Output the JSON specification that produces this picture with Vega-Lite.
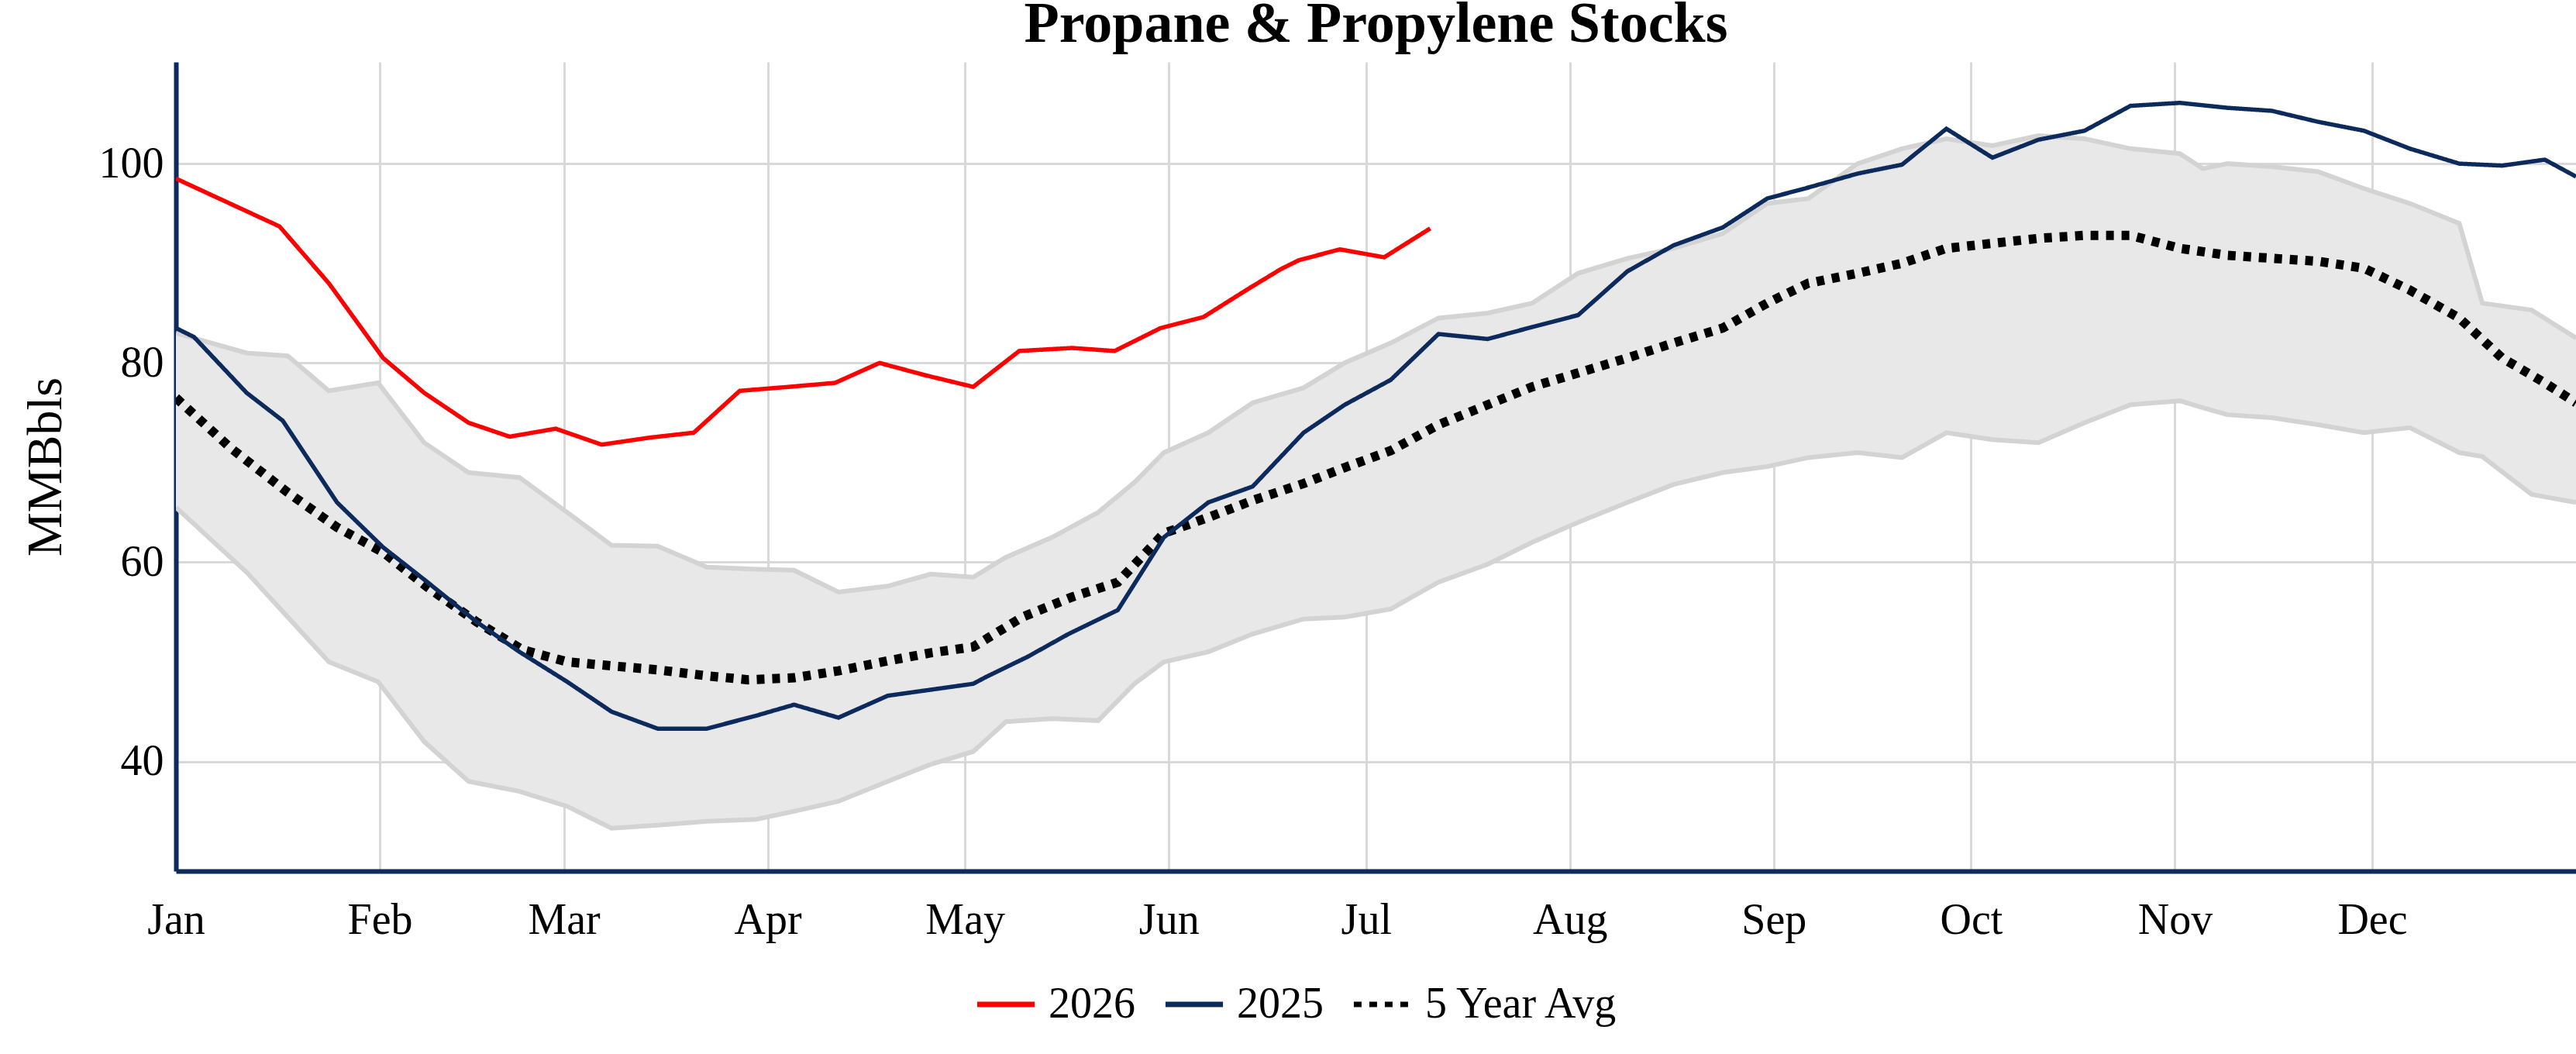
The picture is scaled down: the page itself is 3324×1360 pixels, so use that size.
{
"$schema":"https://vega.github.io/schema/vega-lite/v6.json",
"width":3097,"height":1044,
"autosize":"none",
"padding":{"left":227,"top":80,"right":0,"bottom":236},
"background":"white",
"title":{"text":"Propane & Propylene Stocks","font":"Liberation Serif","fontSize":74,"fontWeight":"bold","color":"black","offset":10,"anchor":"middle"},
"config":{"view":{"stroke":null},"font":"Liberation Serif"},
"datasets":{
"band":[
{"day":0,"lo":65.5,"hi":83},{"day":10.75,"lo":59,"hi":81},{"day":17,"lo":54.5,"hi":80.7},{"day":23.25,"lo":50,"hi":77.2},{"day":30.75,"lo":48,"hi":78},{"day":37.75,"lo":42,"hi":72},{"day":44.5,"lo":38,"hi":69},{"day":52.25,"lo":37,"hi":68.5},{"day":59.5,"lo":35.5,"hi":65},{"day":66.25,"lo":33.3,"hi":61.7},{"day":73.25,"lo":33.6,"hi":61.6},{"day":80.75,"lo":34,"hi":59.5},{"day":88.25,"lo":34.2,"hi":59.3},{"day":94,"lo":35,"hi":59.2},{"day":100.75,"lo":36,"hi":57},{"day":108.25,"lo":38,"hi":57.6},{"day":114.75,"lo":39.7,"hi":58.8},{"day":121.25,"lo":41,"hi":58.5},{"day":126.25,"lo":44,"hi":60.5},{"day":133.25,"lo":44.3,"hi":62.5},{"day":140.25,"lo":44.1,"hi":65},{"day":145.75,"lo":47.8,"hi":68},{"day":150.25,"lo":50,"hi":71},{"day":157,"lo":51,"hi":73},{"day":163.75,"lo":52.8,"hi":76},{"day":171.5,"lo":54.3,"hi":77.5},{"day":177.75,"lo":54.5,"hi":80},{"day":184.75,"lo":55.3,"hi":82},{"day":192,"lo":58,"hi":84.5},{"day":199.5,"lo":59.8,"hi":85},{"day":206.25,"lo":62,"hi":86},{"day":213.25,"lo":64,"hi":89},{"day":220.75,"lo":66,"hi":90.5},{"day":227.75,"lo":67.8,"hi":91.5},{"day":235.25,"lo":69,"hi":93},{"day":242,"lo":69.6,"hi":96},{"day":248.25,"lo":70.5,"hi":96.5},{"day":255.75,"lo":71,"hi":100},{"day":262.5,"lo":70.5,"hi":101.5},{"day":269.25,"lo":73,"hi":102.5},{"day":276.25,"lo":72.3,"hi":101.8},{"day":283.25,"lo":72,"hi":102.8},{"day":290.25,"lo":74,"hi":102.5},{"day":297.25,"lo":75.8,"hi":101.5},{"day":304.75,"lo":76.2,"hi":101},{"day":308.25,"lo":75.5,"hi":99.5},{"day":312,"lo":74.8,"hi":100},{"day":318.75,"lo":74.5,"hi":99.7},{"day":325.75,"lo":73.8,"hi":99.2},{"day":332.75,"lo":73,"hi":97.5},{"day":339.75,"lo":73.5,"hi":96},{"day":347.25,"lo":71,"hi":94},{"day":350.75,"lo":70.6,"hi":86},{"day":358.25,"lo":66.8,"hi":85.3},{"day":365,"lo":66,"hi":82.5}
],
"lines":[
{"series":"2026","day":0,"v":98.5},{"series":"2026","day":15.75,"v":93.7},{"series":"2026","day":23.25,"v":88},{"series":"2026","day":31.5,"v":80.5},{"series":"2026","day":37.75,"v":77},{"series":"2026","day":44.5,"v":74},{"series":"2026","day":50.75,"v":72.6},{"series":"2026","day":57.75,"v":73.4},{"series":"2026","day":64.75,"v":71.8},{"series":"2026","day":72,"v":72.5},{"series":"2026","day":78.75,"v":73},{"series":"2026","day":85.75,"v":77.2},{"series":"2026","day":93.25,"v":77.6},{"series":"2026","day":100.25,"v":78},{"series":"2026","day":107,"v":80},{"series":"2026","day":113.75,"v":78.8},{"series":"2026","day":121.25,"v":77.6},{"series":"2026","day":128.25,"v":81.2},{"series":"2026","day":136.25,"v":81.5},{"series":"2026","day":142.75,"v":81.2},{"series":"2026","day":149.75,"v":83.5},{"series":"2026","day":156.25,"v":84.6},{"series":"2026","day":163.25,"v":87.5},{"series":"2026","day":168,"v":89.4},{"series":"2026","day":170.75,"v":90.3},{"series":"2026","day":177,"v":91.4},{"series":"2026","day":183.75,"v":90.6},{"series":"2026","day":190.75,"v":93.5},
{"series":"2025","day":0,"v":83.5},{"series":"2025","day":2.75,"v":82.6},{"series":"2025","day":10.75,"v":77},{"series":"2025","day":16.25,"v":74.2},{"series":"2025","day":24.5,"v":66},{"series":"2025","day":31.5,"v":61.5},{"series":"2025","day":38.25,"v":58},{"series":"2025","day":45.75,"v":54},{"series":"2025","day":52.25,"v":51},{"series":"2025","day":59.5,"v":48},{"series":"2025","day":66.25,"v":45},{"series":"2025","day":73.25,"v":43.3},{"series":"2025","day":80.75,"v":43.3},{"series":"2025","day":88.25,"v":44.6},{"series":"2025","day":94,"v":45.7},{"series":"2025","day":100.75,"v":44.4},{"series":"2025","day":108.25,"v":46.6},{"series":"2025","day":114.75,"v":47.2},{"series":"2025","day":121.25,"v":47.8},{"series":"2025","day":123.25,"v":48.5},{"series":"2025","day":129.5,"v":50.5},{"series":"2025","day":135.75,"v":52.8},{"series":"2025","day":143.25,"v":55.2},{"series":"2025","day":150.25,"v":62.5},{"series":"2025","day":157,"v":66},{"series":"2025","day":163.75,"v":67.6},{"series":"2025","day":171.5,"v":73},{"series":"2025","day":177.75,"v":75.8},{"series":"2025","day":184.75,"v":78.3},{"series":"2025","day":192,"v":82.9},{"series":"2025","day":199.5,"v":82.4},{"series":"2025","day":206.25,"v":83.6},{"series":"2025","day":213.25,"v":84.8},{"series":"2025","day":220.75,"v":89.2},{"series":"2025","day":227.75,"v":91.8},{"series":"2025","day":235.25,"v":93.6},{"series":"2025","day":242,"v":96.5},{"series":"2025","day":248.25,"v":97.6},{"series":"2025","day":255.75,"v":99},{"series":"2025","day":262.5,"v":99.9},{"series":"2025","day":269.25,"v":103.5},{"series":"2025","day":276.25,"v":100.6},{"series":"2025","day":283.25,"v":102.4},{"series":"2025","day":290.25,"v":103.3},{"series":"2025","day":297.25,"v":105.8},{"series":"2025","day":304.75,"v":106.1},{"series":"2025","day":312,"v":105.6},{"series":"2025","day":318.75,"v":105.3},{"series":"2025","day":325.75,"v":104.2},{"series":"2025","day":332.75,"v":103.3},{"series":"2025","day":339.75,"v":101.5},{"series":"2025","day":347.25,"v":100},{"series":"2025","day":353.75,"v":99.8},{"series":"2025","day":360.25,"v":100.4},{"series":"2025","day":365,"v":98.7},
{"series":"5 Year Avg","day":0,"v":76.5},{"series":"5 Year Avg","day":8.25,"v":71.5},{"series":"5 Year Avg","day":17,"v":67},{"series":"5 Year Avg","day":24.5,"v":63.5},{"series":"5 Year Avg","day":31.5,"v":61},{"series":"5 Year Avg","day":38.25,"v":57.5},{"series":"5 Year Avg","day":45.75,"v":54},{"series":"5 Year Avg","day":52.75,"v":51.2},{"series":"5 Year Avg","day":59.5,"v":50},{"series":"5 Year Avg","day":66.25,"v":49.6},{"series":"5 Year Avg","day":73.25,"v":49.2},{"series":"5 Year Avg","day":80.75,"v":48.6},{"series":"5 Year Avg","day":87,"v":48.2},{"series":"5 Year Avg","day":94,"v":48.4},{"series":"5 Year Avg","day":100.75,"v":49.1},{"series":"5 Year Avg","day":108.25,"v":50.1},{"series":"5 Year Avg","day":114.75,"v":50.9},{"series":"5 Year Avg","day":121.25,"v":51.5},{"series":"5 Year Avg","day":128.75,"v":54.5},{"series":"5 Year Avg","day":136.25,"v":56.5},{"series":"5 Year Avg","day":143.25,"v":58},{"series":"5 Year Avg","day":150.25,"v":62.9},{"series":"5 Year Avg","day":157,"v":64.5},{"series":"5 Year Avg","day":163.75,"v":66.2},{"series":"5 Year Avg","day":171.5,"v":67.9},{"series":"5 Year Avg","day":177.75,"v":69.5},{"series":"5 Year Avg","day":184.75,"v":71.2},{"series":"5 Year Avg","day":192,"v":73.8},{"series":"5 Year Avg","day":199.5,"v":75.8},{"series":"5 Year Avg","day":206.25,"v":77.6},{"series":"5 Year Avg","day":213.25,"v":79},{"series":"5 Year Avg","day":220.75,"v":80.5},{"series":"5 Year Avg","day":227.75,"v":82},{"series":"5 Year Avg","day":235.25,"v":83.5},{"series":"5 Year Avg","day":242,"v":86},{"series":"5 Year Avg","day":248.25,"v":88},{"series":"5 Year Avg","day":255.75,"v":89},{"series":"5 Year Avg","day":262.5,"v":90},{"series":"5 Year Avg","day":269.25,"v":91.5},{"series":"5 Year Avg","day":276.25,"v":92},{"series":"5 Year Avg","day":283.25,"v":92.5},{"series":"5 Year Avg","day":290.25,"v":92.8},{"series":"5 Year Avg","day":297.25,"v":92.8},{"series":"5 Year Avg","day":304.75,"v":91.5},{"series":"5 Year Avg","day":312,"v":90.8},{"series":"5 Year Avg","day":318.75,"v":90.5},{"series":"5 Year Avg","day":325.75,"v":90.2},{"series":"5 Year Avg","day":332.75,"v":89.5},{"series":"5 Year Avg","day":339.75,"v":87.3},{"series":"5 Year Avg","day":347.25,"v":84.5},{"series":"5 Year Avg","day":353.75,"v":80.5},{"series":"5 Year Avg","day":360.25,"v":78},{"series":"5 Year Avg","day":365,"v":76}
]},
"encoding":{
"x":{"field":"day","type":"quantitative","scale":{"domain":[0,365],"nice":false,"zero":false},
"axis":{"title":null,"values":[0,31,59,90,120,151,181,212,243,273,304,334],"labelExpr":"['Jan','Feb','Mar','Apr','May','Jun','Jul','Aug','Sep','Oct','Nov','Dec'][indexof([0,31,59,90,120,151,181,212,243,273,304,334],datum.value)]","labelFlush":false,"labelFont":"Liberation Serif","labelFontSize":56,"labelColor":"black","labelPadding":36,"ticks":false,"domainColor":"#0d2a5c","domainWidth":6,"gridColor":"#d9d9d9","gridWidth":3}}
},
"layer":[
{"data":{"name":"band"},"mark":{"type":"area","color":"#e8e8e8","opacity":1,"clip":true},
"encoding":{"y":{"field":"lo","type":"quantitative","scale":{"domain":[29,110.2],"nice":false,"zero":false},
"axis":{"title":"MMBbls","titleFont":"Liberation Serif","titleFontSize":64,"titleFontWeight":"normal","titleColor":"black","titlePadding":36,"values":[40,60,80,100],"labelFont":"Liberation Serif","labelFontSize":56,"labelColor":"black","labelPadding":16,"ticks":false,"domainColor":"#0d2a5c","domainWidth":6,"gridColor":"#d9d9d9","gridWidth":3}},
"y2":{"field":"hi"}}},
{"data":{"name":"band"},"mark":{"type":"line","color":"#d3d3d3","strokeWidth":6,"clip":true},"encoding":{"y":{"field":"lo","type":"quantitative"}}},
{"data":{"name":"band"},"mark":{"type":"line","color":"#d3d3d3","strokeWidth":6,"clip":true},"encoding":{"y":{"field":"hi","type":"quantitative"}}},
{"data":{"name":"lines"},"transform":[{"filter":"datum.series == '5 Year Avg'"}],"mark":{"type":"line","clip":true,"strokeWidth":12},
"encoding":{"y":{"field":"v","type":"quantitative"},
"color":{"field":"series","type":"nominal","scale":{"domain":["2026","2025","5 Year Avg"],"range":["#ff0000","#0d2a5c","#000000"]},
"legend":{"title":null,"orient":"none","direction":"horizontal","legendX":1030,"legendY":1175,"labelFont":"Liberation Serif","labelFontSize":56,"labelColor":"black","labelLimit":0,"symbolType":"stroke","symbolSize":5500,"symbolStrokeWidth":7,"columnPadding":24,"labelOffset":14}},
"strokeDash":{"field":"series","type":"nominal","scale":{"domain":["2026","2025","5 Year Avg"],"range":[[1,0],[1,0],[10,10]]},"legend":null}}},
{"data":{"name":"lines"},"transform":[{"filter":"datum.series != '5 Year Avg'"}],"mark":{"type":"line","clip":true,"strokeWidth":5.5},
"encoding":{"y":{"field":"v","type":"quantitative"},
"color":{"field":"series","type":"nominal"},
"strokeDash":{"field":"series","type":"nominal","legend":null}}}
]
}
